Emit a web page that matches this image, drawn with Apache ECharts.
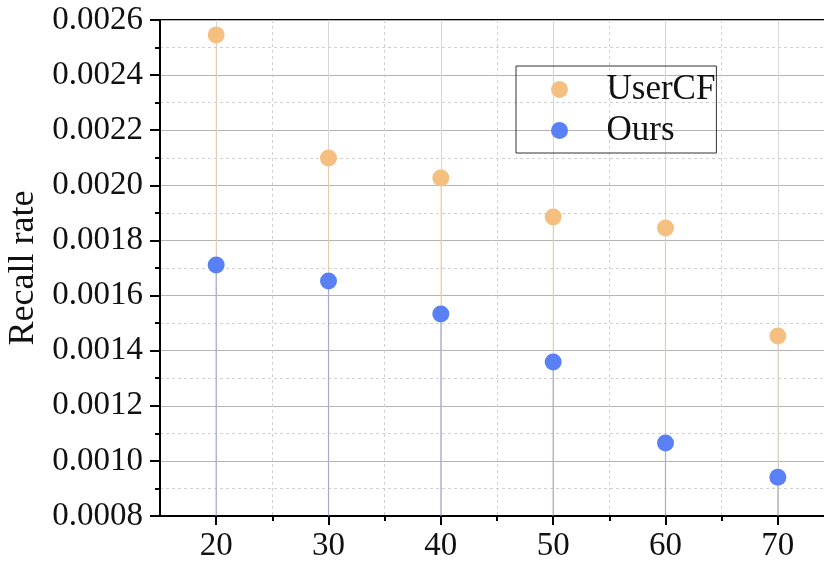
<!DOCTYPE html>
<html>
<head>
<meta charset="utf-8">
<script src="https://cdn.jsdelivr.net/npm/echarts@6/dist/echarts.min.js"></script>
<style>
html,body{margin:0;padding:0;background:#fff;}
#chart{width:824px;height:566px;}
</style>
</head>
<body>
<div id="chart"></div>
<script>
const xValues = [20, 30, 40, 50, 60, 70];
const userCF = [0.002546, 0.002099, 0.002027, 0.001885, 0.001845, 0.001453];
const ours = [0.001711, 0.001653, 0.001533, 0.001359, 0.001065, 0.000941];
const xMajorTicks = [20, 30, 40, 50, 60, 70];
const xMinorTicks = [25, 35, 45, 55, 65, 75];
const yMin = 0.0008, yMax = 0.0026, yStep = 0.0002;
const xMin = 15, xMax = 75;

const ORANGE = '#F5C07F';
const BLUE = '#5A80F5';
const FONT = '"Liberation Serif", "Times New Roman", serif';

function stemSeries(values, color, z) {
  return {
    type: 'custom',
    z: z,
    silent: true,
    data: xValues.map((x, i) => [x, values[i]]),
    renderItem: function (params, api) {
      const p1 = api.coord([api.value(0), api.value(1)]);
      const p0 = api.coord([api.value(0), yMin]);
      return {
        type: 'line',
        shape: { x1: p1[0], y1: p1[1], x2: p0[0], y2: p0[1] },
        style: { stroke: color, lineWidth: 1.2, opacity: 0.45 }
      };
    }
  };
}

const chart = echarts.init(document.getElementById('chart'));
chart.setOption({
  animation: false,
  backgroundColor: '#fff',
  grid: { left: 160, top: 20, width: 674, height: 496, outerBoundsMode: 'none', containLabel: false,
          show: true, borderColor: '#000', borderWidth: 2, backgroundColor: 'transparent' },
  legend: {
    data: ['UserCF', 'Ours'],
    orient: 'vertical',
    left: 516, top: 66,
    icon: 'circle',
    itemWidth: 84, itemHeight: 17,
    itemGap: 6,
    padding: [6, 1, 5, 35],
    borderColor: '#333', borderWidth: 1,
    textStyle: { fontFamily: FONT, fontSize: 35, color: '#111' }
  },
  xAxis: [{
    type: 'value', min: xMin, max: xMax, position: 'bottom',
    axisLine: { show: true, onZero: false, lineStyle: { color: '#000', width: 2 } },
    axisTick: { show: true, customValues: xMajorTicks, length: 9, lineStyle: { color: '#000', width: 2 } },
    axisLabel: { customValues: xMajorTicks, fontFamily: FONT, fontSize: 33, color: '#111', margin: 14 },
    splitLine: { show: true, lineStyle: { color: '#d6d6d6', width: 1 } }
  }, {
    type: 'value', min: xMin, max: xMax, position: 'bottom',
    axisLine: { show: false },
    axisTick: { show: true, customValues: xMinorTicks, length: 5, lineStyle: { color: '#000', width: 2 } },
    axisLabel: { show: false },
    splitLine: { show: true, lineStyle: { color: '#d0d0d0', width: 1, type: [3, 3] } }
  }],
  yAxis: {
    type: 'value', min: yMin, max: yMax, interval: yStep,
    name: 'Recall rate', nameLocation: 'middle', nameGap: 117, nameRotate: 90,
    nameTextStyle: { fontFamily: FONT, fontSize: 36, color: '#111' },
    axisLine: { show: true, lineStyle: { color: '#000', width: 2 } },
    axisTick: { show: true, length: 10, lineStyle: { color: '#000', width: 2 } },
    minorTick: { show: true, splitNumber: 2, length: 5, lineStyle: { color: '#000', width: 2 } },
    axisLabel: { fontFamily: FONT, fontSize: 33, color: '#111', margin: 17, formatter: v => v.toFixed(4) },
    splitLine: { show: true, lineStyle: { color: '#b4b4b4', width: 1 } },
    minorSplitLine: { show: true, lineStyle: { color: '#d0d0d0', width: 1, type: [3, 3] } }
  },
  series: [
    stemSeries(userCF, ORANGE, 2),
    stemSeries(ours, BLUE, 3),
    {
      name: 'UserCF', type: 'scatter', z: 5, symbol: 'circle', symbolSize: 17,
      itemStyle: { color: ORANGE, opacity: 1 },
      data: xValues.map((x, i) => [x, userCF[i]])
    },
    {
      name: 'Ours', type: 'scatter', z: 6, symbol: 'circle', symbolSize: 17,
      itemStyle: { color: BLUE, opacity: 1 },
      data: xValues.map((x, i) => [x, ours[i]])
    }
  ]
});
</script>
</body>
</html>
